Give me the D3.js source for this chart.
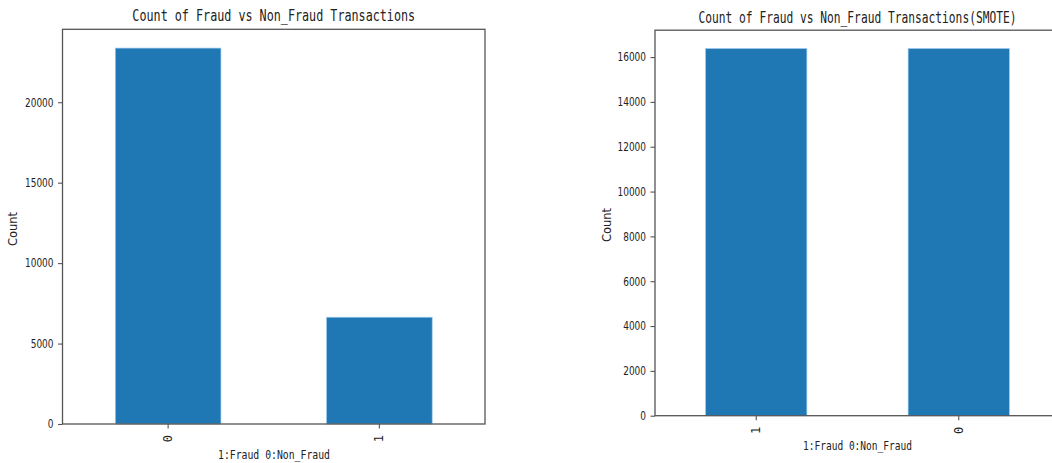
<!DOCTYPE html>
<html>
<head>
<meta charset="utf-8">
<script src="https://cdn.jsdelivr.net/npm/d3@7"></script>
<style>
  html, body { margin: 0; padding: 0; background: #fff; }
  svg { display: block; }
</style>
</head>
<body>
<svg id="chart" width="1052" height="463"></svg>
<script>
// Class counts before resampling
const originalCategories = ["0", "1"];
const originalCounts = [23364, 6636];
const originalTicks = [0, 5000, 10000, 15000, 20000];

// Class counts after SMOTE oversampling
const smoteCategories = ["1", "0"];
const smoteCounts = [16380, 16380];
const smoteTicks = [0, 2000, 4000, 6000, 8000, 10000, 12000, 14000, 16000];

const titles = [
  "Count of Fraud vs Non_Fraud Transactions",
  "Count of Fraud vs Non_Fraud Transactions(SMOTE)"
];
const xLabel = "1:Fraud 0:Non_Fraud";
const yLabel = "Count";

const BAR = "#1f77b4";
const INK = "#222";
const SPINE = "#555";
const MONO = "'DejaVu Sans Mono', monospace";
const SANS = "'DejaVu Sans', sans-serif";

const svg = d3.select("#chart");

// Squeeze text horizontally to a given width per character (narrow CJK-style Latin glyphs)
function fit(sel, perChar) {
  sel.each(function () {
    const n = this.textContent.length;
    const w = this.getComputedTextLength();
    const s = (n * perChar) / w;
    const x = +this.getAttribute("x") || 0;
    const y = +this.getAttribute("y") || 0;
    d3.select(this)
      .attr("x", 0).attr("y", 0)
      .attr("transform", `translate(${x},${y}) scale(${s},1)`);
  });
}

function panel(cfg) {
  const { box, cats, vals, ticks, title } = cfg;
  const g = svg.append("g");

  const x = d3.scaleBand()
    .domain(cats)
    .range([box.left, box.right])
    .paddingInner(0.5)
    .paddingOuter(0.25);

  const y = d3.scaleLinear()
    .domain([0, d3.max(vals) * 1.05])
    .range([box.bottom, box.top]);

  // bars
  g.selectAll("rect.bar")
    .data(cats.map((c, i) => ({ c, v: vals[i] })))
    .join("rect")
    .attr("class", "bar")
    .attr("x", d => x(d.c))
    .attr("width", x.bandwidth())
    .attr("y", d => y(d.v))
    .attr("height", d => y(0) - y(d.v))
    .attr("fill", BAR)
    .attr("stroke", "#9cc8ec")
    .attr("stroke-width", 0.7);

  // frame
  g.append("rect")
    .attr("x", box.left).attr("y", box.top)
    .attr("width", box.right - box.left)
    .attr("height", box.bottom - box.top)
    .attr("fill", "none")
    .attr("stroke", SPINE)
    .attr("stroke-width", 1.3);

  // y axis
  const ya = g.append("g")
    .attr("transform", `translate(${box.left},0)`)
    .call(d3.axisLeft(y).tickValues(ticks).tickFormat(d3.format("d")).tickSize(4.5).tickPadding(4.5));
  ya.select(".domain").remove();
  ya.selectAll(".tick line").attr("stroke", SPINE).attr("stroke-width", 1.1);
  ya.selectAll(".tick text")
    .attr("fill", INK)
    .style("font-family", SANS)
    .style("font-size", "12px")
    .call(fit, 5.7);

  // x axis with rotated labels
  const xa = g.append("g")
    .attr("transform", `translate(0,${box.bottom})`)
    .call(d3.axisBottom(x).tickSize(4.5).tickPadding(0));
  xa.select(".domain").remove();
  xa.selectAll(".tick line").attr("stroke", SPINE).attr("stroke-width", 1.1);
  xa.selectAll(".tick text")
    .attr("fill", INK)
    .style("font-family", MONO)
    .style("font-size", "12px")
    .attr("text-anchor", "end")
    .attr("dy", null)
    .attr("y", 0)
    .attr("transform", "translate(4,11) rotate(-90)");

  const cx = (box.left + box.right) / 2;

  // title
  g.append("text")
    .attr("x", cx).attr("y", cfg.titleY)
    .attr("text-anchor", "middle")
    .attr("fill", INK)
    .style("font-family", MONO)
    .style("font-size", "15px")
    .text(title)
    .call(fit, cfg.titleChar);

  // x label
  g.append("text")
    .attr("x", cfg.xLabelX).attr("y", cfg.xLabelY)
    .attr("text-anchor", "middle")
    .attr("fill", INK)
    .style("font-family", MONO)
    .style("font-size", "13px")
    .text(xLabel)
    .call(fit, cfg.xLabelChar);

  // y label
  g.append("text")
    .attr("transform", `translate(${cfg.yLabelX},${cfg.yLabelY}) rotate(-90)`)
    .attr("text-anchor", "middle")
    .attr("fill", INK)
    .style("font-family", SANS)
    .style("font-size", "11.5px")
    .text(yLabel);
}

panel({
  box: { left: 62.5, right: 485, top: 29.3, bottom: 424 },
  cats: originalCategories,
  vals: originalCounts,
  ticks: originalTicks,
  title: titles[0],
  titleY: 20.5,
  titleChar: 7.07,
  xLabelX: 274,
  xLabelY: 458.5,
  xLabelChar: 5.9,
  yLabelX: 17,
  yLabelY: 229
});

panel({
  box: { left: 655, right: 1060, top: 30.2, bottom: 415.7 },
  cats: smoteCategories,
  vals: smoteCounts,
  ticks: smoteTicks,
  title: titles[1],
  titleY: 22.5,
  titleChar: 6.77,
  xLabelX: 857.5,
  xLabelY: 450,
  xLabelChar: 5.75,
  yLabelX: 611,
  yLabelY: 225
});
</script>
</body>
</html>
